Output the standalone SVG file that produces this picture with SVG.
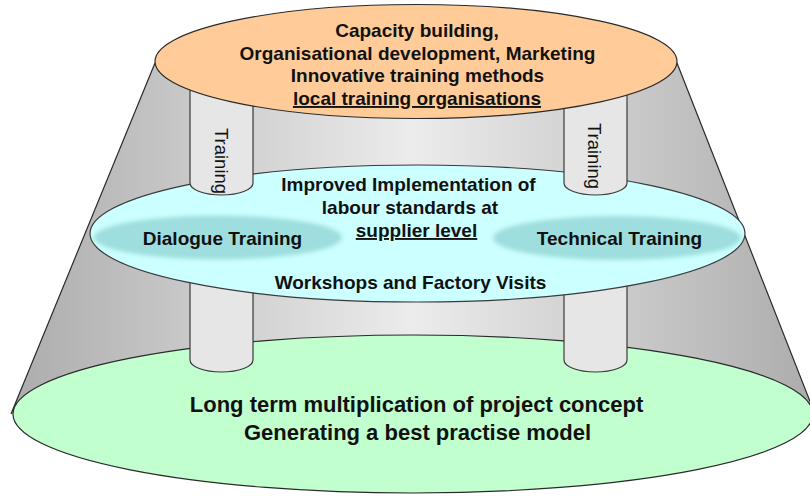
<svg xmlns="http://www.w3.org/2000/svg" width="810" height="496" viewBox="0 0 810 496">
<style>
.t{font-family:"Liberation Sans",Arial,sans-serif;font-weight:bold;font-size:19px;fill:#111;text-anchor:middle}
.big{font-size:22px}
.rot{font-family:"Liberation Sans",Arial,sans-serif;font-size:18.5px;fill:#111;text-anchor:middle}
.edge{fill:none;stroke:#2a2a2a;stroke-width:1.2}
.pillar{fill:#e6e6e6;stroke:#3a3a3a;stroke-width:1.2}
.ul{text-decoration:underline}
</style>
<defs>
<linearGradient id="cone" x1="11" y1="0" x2="815" y2="0" gradientUnits="userSpaceOnUse">
<stop offset="0" stop-color="#acacac"/>
<stop offset="0.5" stop-color="#ececec"/>
<stop offset="1" stop-color="#acacac"/>
</linearGradient>
<filter id="soft" x="-10%" y="-30%" width="120%" height="160%">
<feGaussianBlur stdDeviation="2"/>
</filter>
</defs>
<g id="frustum">
<path d="M155,63 L677,63 L815,414 L11,414 Z" fill="url(#cone)"/>
<path class="edge" d="M155,63 L11,414 M677,63 L815,414"/>
</g>
<g id="bottom-level">
<ellipse cx="413" cy="414" rx="400" ry="79" fill="#c2ffcf" stroke="#2a2a2a" stroke-width="1.2"/>
</g>
<g id="lower-pillars">
<path class="pillar" d="M190,270 V360 A31.5,12 0 0 0 253,360 V270"/>
<path class="pillar" d="M564,270 V360 A31.5,12 0 0 0 627,360 V270"/>
</g>
<g id="mid-level">
<ellipse cx="417.5" cy="233.5" rx="327.5" ry="68.5" fill="#ccffff" stroke="#3a3a3a" stroke-width="1.2"/>
</g>
<g id="dialogue-training">
<ellipse cx="218" cy="237.5" rx="124" ry="22" fill="#9fdede" filter="url(#soft)"/>
<text class="t" x="222.5" y="245">Dialogue Training</text>
</g>
<g id="technical-training">
<ellipse cx="617" cy="238" rx="124" ry="22" fill="#9fdede" filter="url(#soft)"/>
<text class="t" x="619.5" y="245">Technical Training</text>
</g>
<g id="upper-pillars">
<path class="pillar" d="M190,80 V183 A31.5,12 0 0 0 253,183 V80"/>
<path class="pillar" d="M564,80 V183 A31.5,12 0 0 0 627,183 V80"/>
<text class="rot" transform="translate(215,161) rotate(90)">Training</text>
<text class="rot" transform="translate(588,156) rotate(90)">Training</text>
</g>
<g id="top-level">
<ellipse cx="416" cy="61.5" rx="261" ry="57" fill="#ffcc99" stroke="#2a2a2a" stroke-width="1.2"/>
<text class="t" x="417" y="37">Capacity building,</text>
<text class="t" x="417.5" y="60">Organisational development, Marketing</text>
<text class="t" x="417.5" y="82">Innovative training methods</text>
<text class="t ul" x="417" y="105">local training organisations</text>
</g>
<g id="mid-text">
<text class="t" x="408.5" y="191">Improved Implementation of</text>
<text class="t" x="410" y="214">labour standards at</text>
<text class="t ul" x="416.5" y="237">supplier level</text>
<text class="t" x="410.5" y="289">Workshops and Factory Visits</text>
</g>
<g id="bottom-text">
<text class="t big" x="416.5" y="412">Long term multiplication of project concept</text>
<text class="t big" x="417.5" y="440">Generating a best practise model</text>
</g>
<g id="connectors"/>
</svg>
